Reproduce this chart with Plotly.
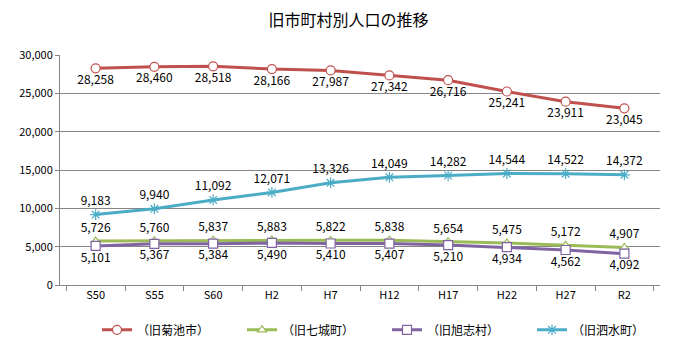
import plotly.graph_objects as go

categories = ["S50", "S55", "S60", "H2", "H7", "H12", "H17", "H22", "H27", "R2"]
kikuchi = [28258, 28460, 28518, 28166, 27987, 27342, 26716, 25241, 23911, 23045]
shichijo = [5726, 5760, 5837, 5883, 5822, 5838, 5654, 5475, 5172, 4907]
kyokushi = [5101, 5367, 5384, 5490, 5410, 5407, 5210, 4934, 4562, 4092]
shisui = [9183, 9940, 11092, 12071, 13326, 14049, 14282, 14544, 14522, 14372]
y_ticks = [0, 5000, 10000, 15000, 20000, 25000, 30000]

FONT = "Noto Sans CJK JP"

series = [
    ("（旧菊池市）", kikuchi, "#C0504D", "circle", "bottom center", 9),
    ("（旧七城町）", shichijo, "#9BBB59", "triangle-up", "top center", 8),
    ("（旧旭志村）", kyokushi, "#8064A2", "square", "bottom center", 9),
    ("（旧泗水町）", shisui, "#4BACC6", "asterisk-open", "top center", 9),
]

fig = go.Figure()
for name, vals, color, sym, pos, ms in series:
    fig.add_trace(go.Scatter(
        x=categories, y=vals, name=name, mode="lines+markers+text",
        line=dict(color=color, width=3),
        marker=dict(symbol=sym, size=ms, color="white" if sym != "asterisk-open" else color,
                    line=dict(color=color, width=1.2)),
        text=[f"{v:,}" for v in vals], textposition=pos,
        textfont=dict(family=FONT, size=12, color="#000000"),
        cliponaxis=False,
    ))

# page body has an 8px default margin, so the figure is sized/offset accordingly
fig.update_layout(
    width=681, height=348,
    margin=dict(l=52, r=21, t=47, b=64),
    paper_bgcolor="white", plot_bgcolor="white",
    title=dict(text="旧市町村別人口の推移", x=0.5, xanchor="center", y=0.965, yanchor="middle",
               font=dict(family=FONT, size=16, color="#000000")),
    font=dict(family=FONT, size=12, color="#000000"),
    showlegend=True,
    legend=dict(orientation="h", x=0.545, xanchor="center", y=-0.195, yanchor="middle",
                font=dict(family=FONT, size=12), entrywidth=100, itemwidth=30,
                tracegroupgap=0),
    xaxis=dict(type="category", tickson="boundaries", ticks="outside", ticklen=5,
               tickcolor="#868686", showline=True, linecolor="#868686", showgrid=False,
               tickfont=dict(family=FONT, size=11), automargin=False),
    yaxis=dict(range=[0, 30000], tickvals=y_ticks, tickformat=",", ticks="outside", ticklen=4,
               tickcolor="#868686", showline=True, linecolor="#868686",
               gridcolor="#868686", gridwidth=1, zeroline=False,
               tickfont=dict(family=FONT, size=11), automargin=False),
)

fig.write_html("out.html")
